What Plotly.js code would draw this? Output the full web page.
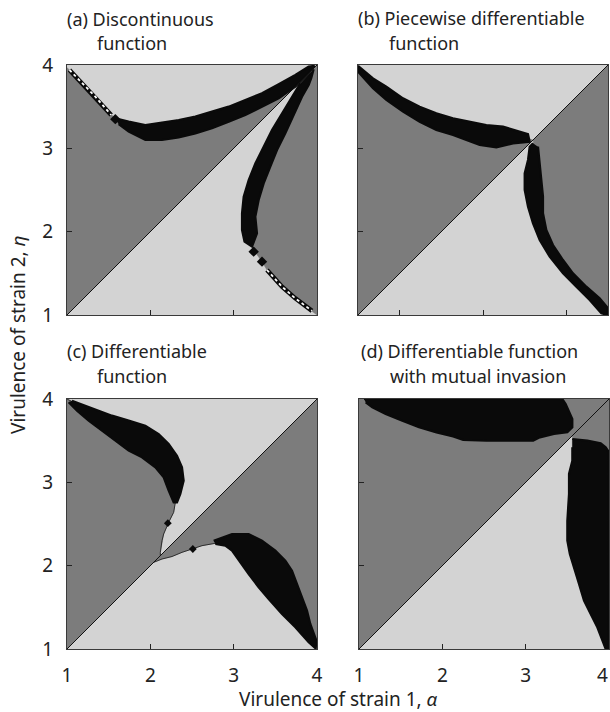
<!DOCTYPE html>
<html><head><meta charset="utf-8">
<script src="https://cdn.plot.ly/plotly-3.0.1.min.js"></script>
<style>html,body{margin:0;padding:0;background:#fff}</style>
</head><body><div id="chart" style="width:610px;height:712px"></div>
<script>
// ---------- data (virulence values) ----------
const axisTicks = [1, 2, 3, 4];
const axisTickText = ['1', '2', '3', '4'];
const panelBTicks = [1.5, 2.5, 3.5];
const diagonal = [1, 4];
const cornerLowerLeft = [1, 1];
const cornerUpperRight = [4, 4];

// (a) Discontinuous function
const aUpBoundX = [4.00, 3.90, 3.74, 3.54, 3.34, 3.14, 2.94, 2.74, 2.54, 2.34, 2.14, 1.94, 1.74, 1.60, 1.54, 1.34, 1.18, 1.04, 1.00];
const aUpBoundY = [4.00, 3.94, 3.81, 3.69, 3.58, 3.49, 3.41, 3.34, 3.28, 3.24, 3.20, 3.19, 3.26, 3.33, 3.40, 3.62, 3.78, 3.92, 3.97];
const aUpBandX = [1.58, 1.74, 1.94, 2.14, 2.34, 2.54, 2.74, 2.94, 3.14, 3.34, 3.54, 3.74, 3.90, 3.97, 3.90, 3.74, 3.54, 3.34, 3.14, 2.94, 2.74, 2.54, 2.34, 2.14, 1.94, 1.74, 1.62];
const aUpBandY = [3.36, 3.32, 3.28, 3.31, 3.34, 3.38, 3.44, 3.50, 3.58, 3.66, 3.77, 3.88, 3.98, 3.99, 3.90, 3.74, 3.60, 3.50, 3.40, 3.32, 3.24, 3.18, 3.13, 3.10, 3.10, 3.20, 3.29];
const aLoBoundX = [4.00, 3.92, 3.74, 3.58, 3.40, 3.34, 3.24, 3.19, 3.18, 3.19, 3.23, 3.30, 3.38, 3.48, 3.60, 3.71, 3.82, 3.93, 4.00];
const aLoBoundY = [1.00, 1.06, 1.20, 1.34, 1.54, 1.64, 1.78, 1.92, 2.08, 2.28, 2.48, 2.68, 2.88, 3.08, 3.30, 3.52, 3.72, 3.92, 4.00];
const aLoBandX = [3.80, 3.70, 3.58, 3.46, 3.36, 3.26, 3.18, 3.12, 3.10, 3.10, 3.13, 3.22, 3.28, 3.26, 3.30, 3.36, 3.44, 3.52, 3.62, 3.72, 3.82, 3.90, 3.93, 3.96];
const aLoBandY = [3.78, 3.62, 3.42, 3.22, 3.02, 2.82, 2.62, 2.42, 2.22, 2.02, 1.88, 1.82, 1.98, 2.18, 2.38, 2.58, 2.78, 2.98, 3.18, 3.40, 3.62, 3.76, 3.84, 3.95];
const aDotUpX = [1.03, 1.18, 1.34, 1.53];
const aDotUpY = [3.94, 3.78, 3.62, 3.40];
const aDotLoX = [3.40, 3.58, 3.74, 3.94];
const aDotLoY = [1.54, 1.34, 1.20, 1.05];
const aSquareX = [1.58, 3.24, 3.34];
const aSquareY = [3.35, 1.76, 1.64];

// (b) Piecewise differentiable function
const bUpBoundX = [3.10, 3.04, 2.94, 2.74, 2.54, 2.34, 2.14, 1.94, 1.74, 1.54, 1.34, 1.18, 1.04, 1.00];
const bUpBoundY = [3.10, 3.12, 3.13, 3.14, 3.16, 3.21, 3.26, 3.32, 3.41, 3.52, 3.66, 3.78, 3.92, 3.96];
const bUpBandX = [1.00, 1.18, 1.34, 1.54, 1.74, 1.94, 2.14, 2.34, 2.54, 2.74, 2.94, 3.04, 3.06, 2.86, 2.66, 2.46, 2.30, 2.14, 1.94, 1.74, 1.54, 1.34, 1.18, 1.04, 1.00];
const bUpBandY = [3.99, 3.84, 3.74, 3.60, 3.50, 3.42, 3.36, 3.32, 3.28, 3.26, 3.20, 3.17, 3.08, 3.06, 3.01, 3.04, 3.10, 3.16, 3.22, 3.32, 3.44, 3.58, 3.72, 3.88, 3.92];
const bLoBoundX = [4.00, 3.95, 3.84, 3.68, 3.52, 3.37, 3.25, 3.17, 3.13, 3.11, 3.10, 3.11, 3.11, 3.10];
const bLoBoundY = [1.00, 1.04, 1.20, 1.34, 1.50, 1.70, 1.90, 2.10, 2.30, 2.50, 2.70, 2.86, 3.02, 3.10];
const bLoBandX = [3.10, 3.06, 3.04, 3.00, 3.00, 3.04, 3.10, 3.18, 3.30, 3.46, 3.62, 3.78, 3.92, 4.00, 4.00, 3.90, 3.74, 3.58, 3.46, 3.34, 3.26, 3.22, 3.22, 3.20, 3.18, 3.16];
const bLoBandY = [3.06, 3.02, 2.86, 2.70, 2.50, 2.30, 2.10, 1.90, 1.70, 1.50, 1.34, 1.18, 1.02, 1.00, 1.08, 1.20, 1.34, 1.50, 1.66, 1.84, 2.02, 2.22, 2.42, 2.62, 2.86, 3.02];

// (c) Differentiable function
const cUpBoundX = [2.12, 2.12, 2.14, 2.16, 2.22, 2.28, 2.30, 2.29, 2.28, 2.22, 2.01, 1.88, 1.74, 1.50, 1.26, 1.07, 1.00];
const cUpBoundY = [2.12, 2.16, 2.30, 2.38, 2.52, 2.64, 2.76, 2.86, 3.02, 3.18, 3.38, 3.50, 3.62, 3.74, 3.86, 3.96, 4.00];
const cUpBandX = [1.06, 1.34, 1.54, 1.74, 1.94, 2.10, 2.22, 2.32, 2.38, 2.40, 2.36, 2.32, 2.28, 2.22, 2.16, 2.06, 1.90, 1.74, 1.58, 1.42, 1.26, 1.12, 1.02];
const cUpBandY = [3.98, 3.88, 3.80, 3.74, 3.68, 3.58, 3.46, 3.32, 3.18, 3.02, 2.86, 2.76, 2.76, 2.90, 3.06, 3.18, 3.30, 3.38, 3.50, 3.62, 3.74, 3.86, 3.96];
const cLoBoundX = [4.00, 3.98, 3.90, 3.74, 3.58, 3.42, 3.30, 3.18, 3.06, 2.90, 2.78, 2.62, 2.50, 2.38, 2.26, 2.14, 2.04];
const cLoBoundY = [1.00, 1.04, 1.20, 1.52, 1.76, 1.92, 2.03, 2.14, 2.22, 2.29, 2.27, 2.24, 2.20, 2.16, 2.11, 2.08, 2.04];
const cLoBandX = [2.76, 2.98, 3.18, 3.34, 3.50, 3.62, 3.70, 3.76, 3.82, 3.88, 3.92, 3.96, 4.00, 3.98, 3.90, 3.74, 3.58, 3.42, 3.30, 3.18, 3.06, 2.98, 2.90, 2.78];
const cLoBandY = [2.30, 2.38, 2.38, 2.30, 2.18, 2.06, 1.94, 1.78, 1.62, 1.46, 1.30, 1.18, 1.08, 1.01, 1.08, 1.26, 1.42, 1.60, 1.74, 1.90, 2.06, 2.18, 2.24, 2.26];
const cDotX = [2.21, 2.51];
const cDotY = [2.51, 2.20];

// (d) Differentiable function with mutual invasion
const dUpBoundX = [4.00, 1.00];
const dUpBoundY = [4.00, 4.00];
const dUpBlobX = [1.06, 3.44, 3.48, 3.52, 3.56, 3.56, 3.50, 3.34, 3.17, 3.09, 2.73, 2.53, 2.25, 2.13, 1.93, 1.72, 1.52, 1.32, 1.16, 1.08];
const dUpBlobY = [4.00, 4.00, 3.94, 3.86, 3.76, 3.66, 3.60, 3.58, 3.54, 3.50, 3.50, 3.50, 3.51, 3.55, 3.60, 3.66, 3.74, 3.82, 3.90, 3.96];
const dLoBoundX = [4.00, 3.96, 3.92, 3.86, 3.78, 3.70, 3.64, 3.58, 3.53, 3.50, 3.50, 3.52, 3.52, 3.56, 3.56, 3.56];
const dLoBoundY = [1.00, 1.00, 1.10, 1.26, 1.42, 1.58, 1.78, 1.98, 2.14, 2.30, 2.54, 2.86, 3.10, 3.26, 3.42, 3.56];
const dLoBlobX = [3.56, 3.74, 3.90, 3.96, 4.00, 4.00, 3.96, 3.92, 3.86, 3.78, 3.70, 3.64, 3.58, 3.53, 3.50, 3.50, 3.52, 3.52, 3.56, 3.56];
const dLoBlobY = [3.52, 3.50, 3.47, 3.42, 3.36, 1.00, 1.00, 1.10, 1.26, 1.42, 1.58, 1.78, 1.98, 2.14, 2.30, 2.54, 2.86, 3.10, 3.26, 3.42];

// ---------- styling ----------
const DARK = '#7c7c7c', LIGHT = '#d3d3d3', BLACK = '#0a0a0a', FRAME = '#3a3a3a';
const FONT = 'Noto Sans, Open Sans, sans-serif';
const TICKSIZE = 19;

function fillPoly(xs, ys, ax, color, stroke) {
  return {x: xs, y: ys, xaxis: 'x' + ax, yaxis: 'y' + ax, type: 'scatter', mode: 'lines',
    fill: 'toself', fillcolor: color, line: {color: color, width: stroke || 0.5}, hoverinfo: 'skip', showlegend: false};
}
function band(xs, ys, ax) { return fillPoly(xs, ys, ax, BLACK, 2.2); }
function line(xs, ys, ax, color, width, dash) {
  return {x: xs, y: ys, xaxis: 'x' + ax, yaxis: 'y' + ax, type: 'scatter', mode: 'lines',
    line: {color: color, width: width, dash: dash || 'solid'}, hoverinfo: 'skip', showlegend: false};
}
function marks(xs, ys, ax, symbol, size) {
  return {x: xs, y: ys, xaxis: 'x' + ax, yaxis: 'y' + ax, type: 'scatter', mode: 'markers',
    marker: {color: BLACK, symbol: symbol, size: size}, hoverinfo: 'skip', showlegend: false};
}
function darkUpper(bx, by, ax) { return fillPoly([cornerLowerLeft[0]].concat(bx), [cornerLowerLeft[1]].concat(by), ax, DARK); }
function darkLower(bx, by, ax) { return fillPoly([cornerUpperRight[0]].concat(bx), [cornerUpperRight[1]].concat(by), ax, DARK); }

const traces = [];
const A = '', B = '2', C = '3', D = '4';
traces.push(darkUpper(aUpBoundX, aUpBoundY, A), darkLower(aLoBoundX, aLoBoundY, A),
  band(aUpBandX, aUpBandY, A), band(aLoBandX, aLoBandY, A),
  line(diagonal, diagonal, A, '#111', 1),
  line(aDotUpX, aDotUpY, A, BLACK, 4.5), line(aDotUpX, aDotUpY, A, '#ffffff', 1.8, 'dot'),
  line(aDotLoX, aDotLoY, A, BLACK, 4.5), line(aDotLoX, aDotLoY, A, '#ffffff', 1.8, 'dot'),
  marks(aSquareX, aSquareY, A, 'diamond', 8));
traces.push(darkUpper(bUpBoundX, bUpBoundY, B), darkLower(bLoBoundX, bLoBoundY, B),
  band(bUpBandX, bUpBandY, B), band(bLoBandX, bLoBandY, B),
  line(diagonal, diagonal, B, '#111', 1));
traces.push(darkUpper(cUpBoundX, cUpBoundY, C), darkLower(cLoBoundX, cLoBoundY, C),
  line(cUpBoundX, cUpBoundY, C, '#222', 0.9), line(cLoBoundX, cLoBoundY, C, '#222', 0.9),
  band(cUpBandX, cUpBandY, C), band(cLoBandX, cLoBandY, C),
  line(diagonal, diagonal, C, '#111', 1),
  marks(cDotX, cDotY, C, 'diamond', 6));
traces.push(darkUpper(dUpBoundX, dUpBoundY, D), darkLower(dLoBoundX, dLoBoundY, D),
  band(dUpBlobX, dUpBlobY, D), band(dLoBlobX, dLoBlobY, D),
  line(diagonal, diagonal, D, '#111', 1));

const W = 610, H = 712;
function xdom(l, r) { return [l / W, r / W]; }
function ydom(top, bottom) { return [1 - bottom / H, 1 - top / H]; }

function axis(dom, anchor, showLabels, tickvals, ticktext) {
  const a = {domain: dom, anchor: anchor, range: [1, 4], autorange: false, showgrid: false, zeroline: false,
    showline: true, mirror: true, linecolor: FRAME, linewidth: 1,
    ticks: 'inside', ticklen: 5, tickwidth: 1, tickcolor: '#222',
    tickvals: tickvals || axisTicks, showticklabels: showLabels, ticklabelstandoff: 9,
    tickfont: {family: FONT, size: TICKSIZE, color: '#222'}, fixedrange: true};
  if (ticktext) a.ticktext = ticktext;
  return a;
}

// last label of panel (d) sits at the page edge: it is drawn as a right-anchored label at alpha = 4
const dLastTick = axisTicks[axisTicks.length - 1];
const dTickText = axisTickText.map((t, i) => i === axisTickText.length - 1 ? '' : t);

const layout = {
  width: W, height: H, margin: {l: 0, r: 0, t: 0, b: 0},
  paper_bgcolor: '#ffffff', plot_bgcolor: LIGHT, showlegend: false,
  xaxis: axis(xdom(67, 317), 'y', false),
  yaxis: axis(ydom(65, 315), 'x', true),
  xaxis2: axis(xdom(358, 608), 'y2', false, panelBTicks),
  yaxis2: axis(ydom(65, 315), 'x2', false),
  xaxis3: axis(xdom(67, 317), 'y3', true),
  yaxis3: axis(ydom(399, 649), 'x3', true),
  xaxis4: axis(xdom(359, 609), 'y4', true, axisTicks, dTickText),
  yaxis4: axis(ydom(399, 649), 'x4', false),
  annotations: []
};

function note(text, px, py, size, opts) {
  return Object.assign({text: text, xref: 'paper', yref: 'paper', x: px / W, y: 1 - py / H,
    xanchor: 'left', yanchor: 'middle', showarrow: false,
    font: {family: FONT, size: size, color: '#222'}}, opts || {});
}
layout.annotations.push(
  note('(a) Discontinuous', 65, 19, 18), note('function', 95, 43, 18),
  note('(b) Piecewise differentiable', 356, 18, 18), note('function', 387, 43, 18),
  note('(c) Differentiable', 65, 351, 18), note('function', 95, 376, 18),
  note('(d) Differentiable function', 359, 351, 18), note('with mutual invasion', 388, 376, 18),
  note('Virulence of strain 2, <i>η</i>', 18, 335, 19, {xanchor: 'center', textangle: -90}),
  note('Virulence of strain 1, <i>α</i>', 338, 699, 19, {xanchor: 'center'}),
  {text: axisTickText[axisTickText.length - 1], xref: 'x4', yref: 'y4', x: dLastTick, y: 1,
   xanchor: 'right', yanchor: 'top', xshift: 1, yshift: -11, showarrow: false,
   font: {family: FONT, size: TICKSIZE, color: '#222'}}
);

Plotly.newPlot('chart', traces, layout, {displayModeBar: false, staticPlot: true});
</script></body></html>
